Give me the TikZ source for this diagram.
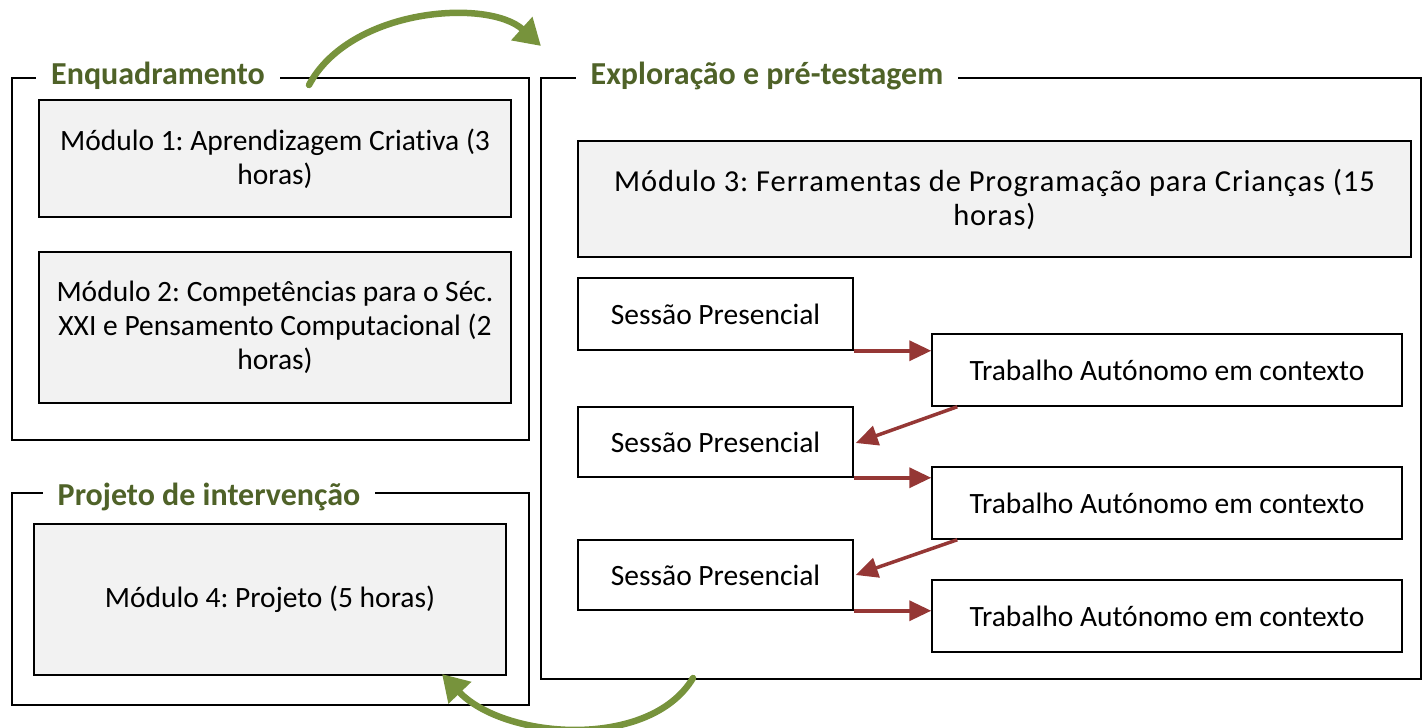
\documentclass[tikz,border=0pt]{standalone}
\usepackage{fontspec}
\setmainfont[Ligatures=NoCommon]{Carlito}
\newfontfamily\spacedfont[Ligatures=NoCommon,LetterSpace=3]{Carlito}
\usetikzlibrary{arrows.meta,calc}
\definecolor{titlegreen}{HTML}{4F6228}
\definecolor{arrowgreen}{HTML}{77933C}
\definecolor{arrowred}{HTML}{953735}
\definecolor{boxgray}{HTML}{F2F2F2}
\frenchspacing
\begin{document}
\begin{tikzpicture}[x=1pt,y=-1pt,
  txt/.style={font=\fontsize{29.5}{34}\selectfont, align=center},
  graybox/.style={txt, draw=black, line width=1.5pt, fill=boxgray, inner sep=0pt},
  whitebox/.style={txt, draw=black, line width=1.5pt, fill=white, inner sep=0pt},
  frame/.style={draw=black, line width=1.5pt, inner sep=0pt},
  ttl/.style={font=\fontsize{32}{36}\selectfont\bfseries, text=titlegreen, fill=white, inner xsep=15pt, inner ysep=2pt},
  redarrow/.style={draw=arrowred, line width=3.5pt, -{Triangle[length=22pt,width=20pt]}},
  greenarrow/.style={draw=arrowgreen, line width=6.5pt, line cap=round, -{Triangle[length=26pt,width=30pt]}}
]
\useasboundingbox (0,0) rectangle (1424,728);
% frames
\node[frame, minimum width=517pt, minimum height=362pt] (f1) at (270.5,259) {};
\node[frame, minimum width=517pt, minimum height=212pt] (f2) at (270.5,599) {};
\node[frame, minimum width=880pt, minimum height=601pt] (f3) at (981,378.5) {};
% titles
\node[ttl] (t-enq) at (158,76) {Enquadramento};
\node[ttl] (t-proj) at (209,497) {Projeto de intervenção};
\node[ttl] (t-exp) at (767,76) {Exploração e pré-testagem};
% modules
\node[graybox, minimum width=472pt, minimum height=117pt] (m1) at (275,158.5) {Módulo 1: Aprendizagem Criativa (3\\horas)};
\node[graybox, minimum width=472pt, minimum height=151pt] (m2) at (275,327.5) {Módulo 2: Competências para o Séc.\\XXI e Pensamento Computacional (2\\horas)};
\node[graybox, minimum width=472pt, minimum height=151pt] (m4) at (270,599.5) {Módulo 4: Projeto (5 horas)};
\node[graybox, minimum width=833pt, minimum height=116pt, font=\spacedfont\fontsize{30.5}{34}\selectfont] (m3) at (994.5,199) {Módulo 3: Ferramentas de Programação para Crianças (15\\horas)};
% sessions
\node[whitebox, minimum width=275pt, minimum height=72pt] (s1) at (715.5,314) {Sessão Presencial};
\node[whitebox, minimum width=275pt, minimum height=70pt] (s2) at (715.5,442) {Sessão Presencial};
\node[whitebox, minimum width=275pt, minimum height=70pt] (s3) at (715.5,575) {Sessão Presencial};
\node[whitebox, minimum width=470pt, minimum height=72pt] (w1) at (1167,370) {Trabalho Autónomo em contexto};
\node[whitebox, minimum width=470pt, minimum height=72pt] (w2) at (1167,503) {Trabalho Autónomo em contexto};
\node[whitebox, minimum width=470pt, minimum height=72pt] (w3) at (1167,616) {Trabalho Autónomo em contexto};
% red arrows
\draw[redarrow] (s1.south east) -- (s1.south east -| w1.west);
\draw[redarrow] ($(w1.south west)+(26,0)$) -- ($(s2.east)+(2,1)$);
\draw[redarrow] (s2.south east) -- (s2.south east -| w2.west);
\draw[redarrow] ($(w2.south west)+(26,0)$) -- ($(s3.east)+(2,0)$);
\draw[redarrow] (s3.south east) -- (s3.south east -| w3.west);
% green arrows
\coordinate (g1s) at (309,85);
\coordinate (g1e) at (541,46);
\draw[greenarrow] (g1s) .. controls (350,8) and (488,-2) .. (g1e);
\coordinate (g2s) at (693,678);
\coordinate (g2e) at (442,674);
\draw[greenarrow] (g2s) .. controls (650,750) and (505,740) .. (g2e);
\end{tikzpicture}
\end{document}
